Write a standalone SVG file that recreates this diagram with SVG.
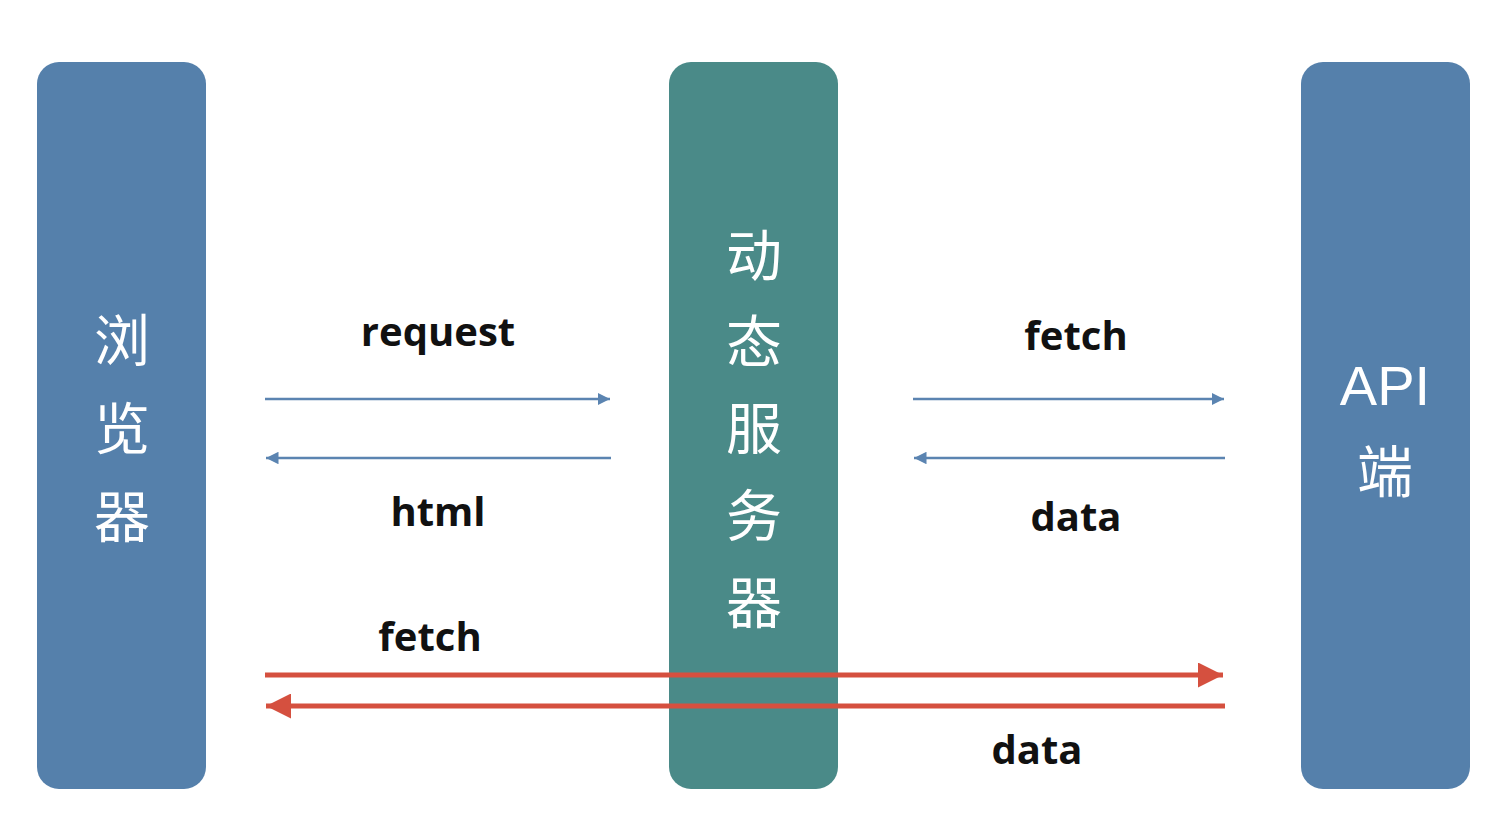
<svg xmlns="http://www.w3.org/2000/svg" width="1490" height="816" viewBox="0 0 1490 816">
<style>
.box-blue{fill:#5580ab}
.box-teal{fill:#4a8a88}
.cjk{font-family:"Noto Sans CJK SC","Noto Sans",sans-serif;font-size:56px;fill:#ffffff;text-anchor:middle}
.lbl{font-family:"Open Sans","Noto Sans",sans-serif;font-weight:bold;font-size:40px;fill:#111111;text-anchor:middle}
.thin{stroke:#5b84b1;stroke-width:2.5;fill:none}
.thick{stroke:#d5503f;stroke-width:5;fill:none}
</style>
<defs>
<marker id="ab" viewBox="0 0 10 10" refX="10" refY="5" markerWidth="5" markerHeight="5" orient="auto-start-reverse" markerUnits="strokeWidth">
<path d="M0,0 L10,5 L0,10 Z" fill="#5b84b1"/>
</marker>
<marker id="ar" viewBox="0 0 10 10" refX="10" refY="5" markerWidth="5" markerHeight="5" orient="auto-start-reverse" markerUnits="strokeWidth">
<path d="M0,0 L10,5 L0,10 Z" fill="#d5503f"/>
</marker>
</defs>
<rect width="1490" height="816" fill="#ffffff"/>
<g id="browser">
<rect class="box-blue" x="37" y="62" width="169" height="727" rx="22"/>
<text class="cjk" x="122" y="361">浏</text>
<text class="cjk" x="122" y="449">览</text>
<text class="cjk" x="122" y="537">器</text>
</g>
<g id="server">
<rect class="box-teal" x="669" y="62" width="169" height="727" rx="22"/>
<text class="cjk" x="754" y="276">动</text>
<text class="cjk" x="754" y="362">态</text>
<text class="cjk" x="754" y="449">服</text>
<text class="cjk" x="754" y="536">务</text>
<text class="cjk" x="754" y="623">器</text>
</g>
<g id="api">
<rect class="box-blue" x="1301" y="62" width="169" height="727" rx="22"/>
<text class="cjk" x="1385" y="405" style="font-family:'Liberation Sans','Noto Sans',sans-serif">API</text>
<text class="cjk" x="1385" y="492">端</text>
</g>
<g id="connectors">
<line class="thin" x1="265" y1="399" x2="610" y2="399" marker-end="url(#ab)"/>
<line class="thin" x1="611" y1="458" x2="266" y2="458" marker-end="url(#ab)"/>
<line class="thin" x1="913" y1="399" x2="1224" y2="399" marker-end="url(#ab)"/>
<line class="thin" x1="1225" y1="458" x2="914" y2="458" marker-end="url(#ab)"/>
<line class="thick" x1="265" y1="675" x2="1223" y2="675" marker-end="url(#ar)"/>
<line class="thick" x1="1225" y1="706" x2="266" y2="706" marker-end="url(#ar)"/>
</g>
<g id="labels">
<text class="lbl" x="438" y="346">request</text>
<text class="lbl" x="438" y="526">html</text>
<text class="lbl" x="1076" y="350">fetch</text>
<text class="lbl" x="1076" y="531">data</text>
<text class="lbl" x="430" y="651">fetch</text>
<text class="lbl" x="1037" y="764">data</text>
</g>
</svg>
